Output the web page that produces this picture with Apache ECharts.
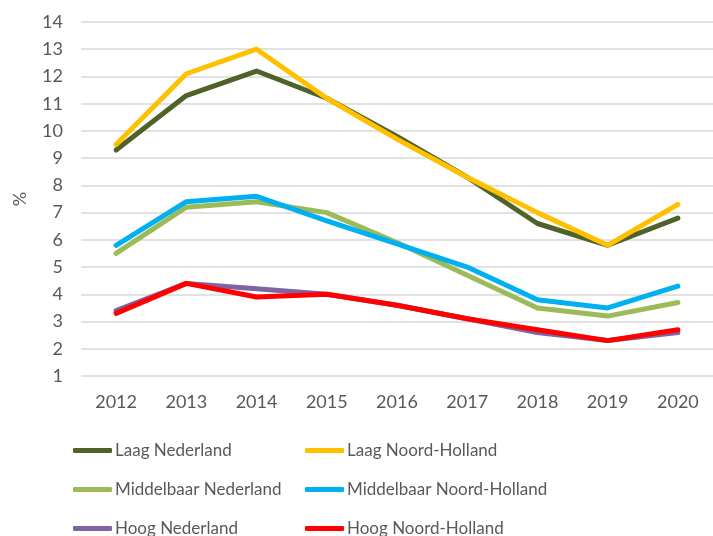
<!DOCTYPE html>
<html lang="nl">
<head>
    <meta charset="UTF-8">
    <title>Opleidingsniveau</title>
    <script src="https://cdn.jsdelivr.net/npm/echarts@6/dist/echarts.min.js"></script>
    <style>
        html, body { margin: 0; padding: 0; background: #fff; }
        #main { width: 713px; height: 536px; }
    </style>
</head>
<body>
    <div id="main"></div>
    <script>
        const years = ['2012', '2013', '2014', '2015', '2016', '2017', '2018', '2019', '2020']

        const laagNL = [9.3, 11.3, 12.2, 11.2, 9.8, 8.3, 6.6, 5.8, 6.8]
        const laagNH = [9.5, 12.1, 13.0, 11.2, 9.7, 8.3, 7.0, 5.8, 7.3]
        const middelNL = [5.5, 7.2, 7.4, 7.0, 5.9, 4.7, 3.5, 3.2, 3.7]
        const middelNH = [5.8, 7.4, 7.6, 6.7, 5.85, 5.0, 3.8, 3.5, 4.3]
        const hoogNL = [3.4, 4.4, 4.2, 4.0, 3.6, 3.1, 2.6, 2.3, 2.6]
        const hoogNH = [3.3, 4.4, 3.9, 4.0, 3.6, 3.1, 2.7, 2.3, 2.7]

        const font = 'Lato, sans-serif'
        const txt = '#595959'

        let chart = echarts.init(document.getElementById('main'))

        function line (name, data, color) {
            return {
                name: name,
                type: 'line',
                data: data,
                symbol: 'none',
                lineStyle: { width: 5, color: color, cap: 'round', join: 'round' },
                itemStyle: { color: color }
            }
        }

        // elke legenda-regel apart geplaatst (2 kolommen x 3 rijen)
        function legendItem (name, left, top) {
            return {
                data: [name],
                left: left,
                top: top,
                itemWidth: 39,
                itemHeight: 5,
                icon: 'roundRect',
                textStyle: { fontFamily: font, fontSize: 17, color: txt, padding: [0, 0, 0, -2] }
            }
        }

        chart.setOption({
            animation: false,
            grid: { left: 81, right: -8, top: 22, bottom: 160 },
            legend: [
                legendItem('Laag Nederland', 68, 437),
                legendItem('Middelbaar Nederland', 68, 476),
                legendItem('Hoog Nederland', 68, 515),
                legendItem('Laag Noord-Holland', 300, 437),
                legendItem('Middelbaar Noord-Holland', 300, 476),
                legendItem('Hoog Noord-Holland', 300, 515)
            ],
            xAxis: {
                type: 'category',
                data: years,
                boundaryGap: true,
                axisLine: { show: false },
                axisTick: { show: false },
                axisLabel: { fontFamily: font, fontSize: 18, color: txt, margin: 17 }
            },
            yAxis: {
                type: 'value',
                min: 1,
                max: 14,
                interval: 1,
                name: '%',
                nameLocation: 'middle',
                nameGap: 52,
                nameRotate: 90,
                nameTextStyle: { fontFamily: font, fontSize: 18, color: txt },
                axisLine: { show: false },
                axisTick: { show: false },
                axisLabel: { fontFamily: font, fontSize: 18, color: txt, margin: 18 },
                splitLine: { lineStyle: { color: '#d9d9d9', width: 1.5 } }
            },
            series: [
                line('Laag Nederland', laagNL, '#4f6228'),
                line('Laag Noord-Holland', laagNH, '#ffc000'),
                line('Middelbaar Nederland', middelNL, '#9bbb59'),
                line('Middelbaar Noord-Holland', middelNH, '#00b0f0'),
                line('Hoog Nederland', hoogNL, '#8064a2'),
                line('Hoog Noord-Holland', hoogNH, '#ff0000')
            ]
        })
    </script>
</body>
</html>
